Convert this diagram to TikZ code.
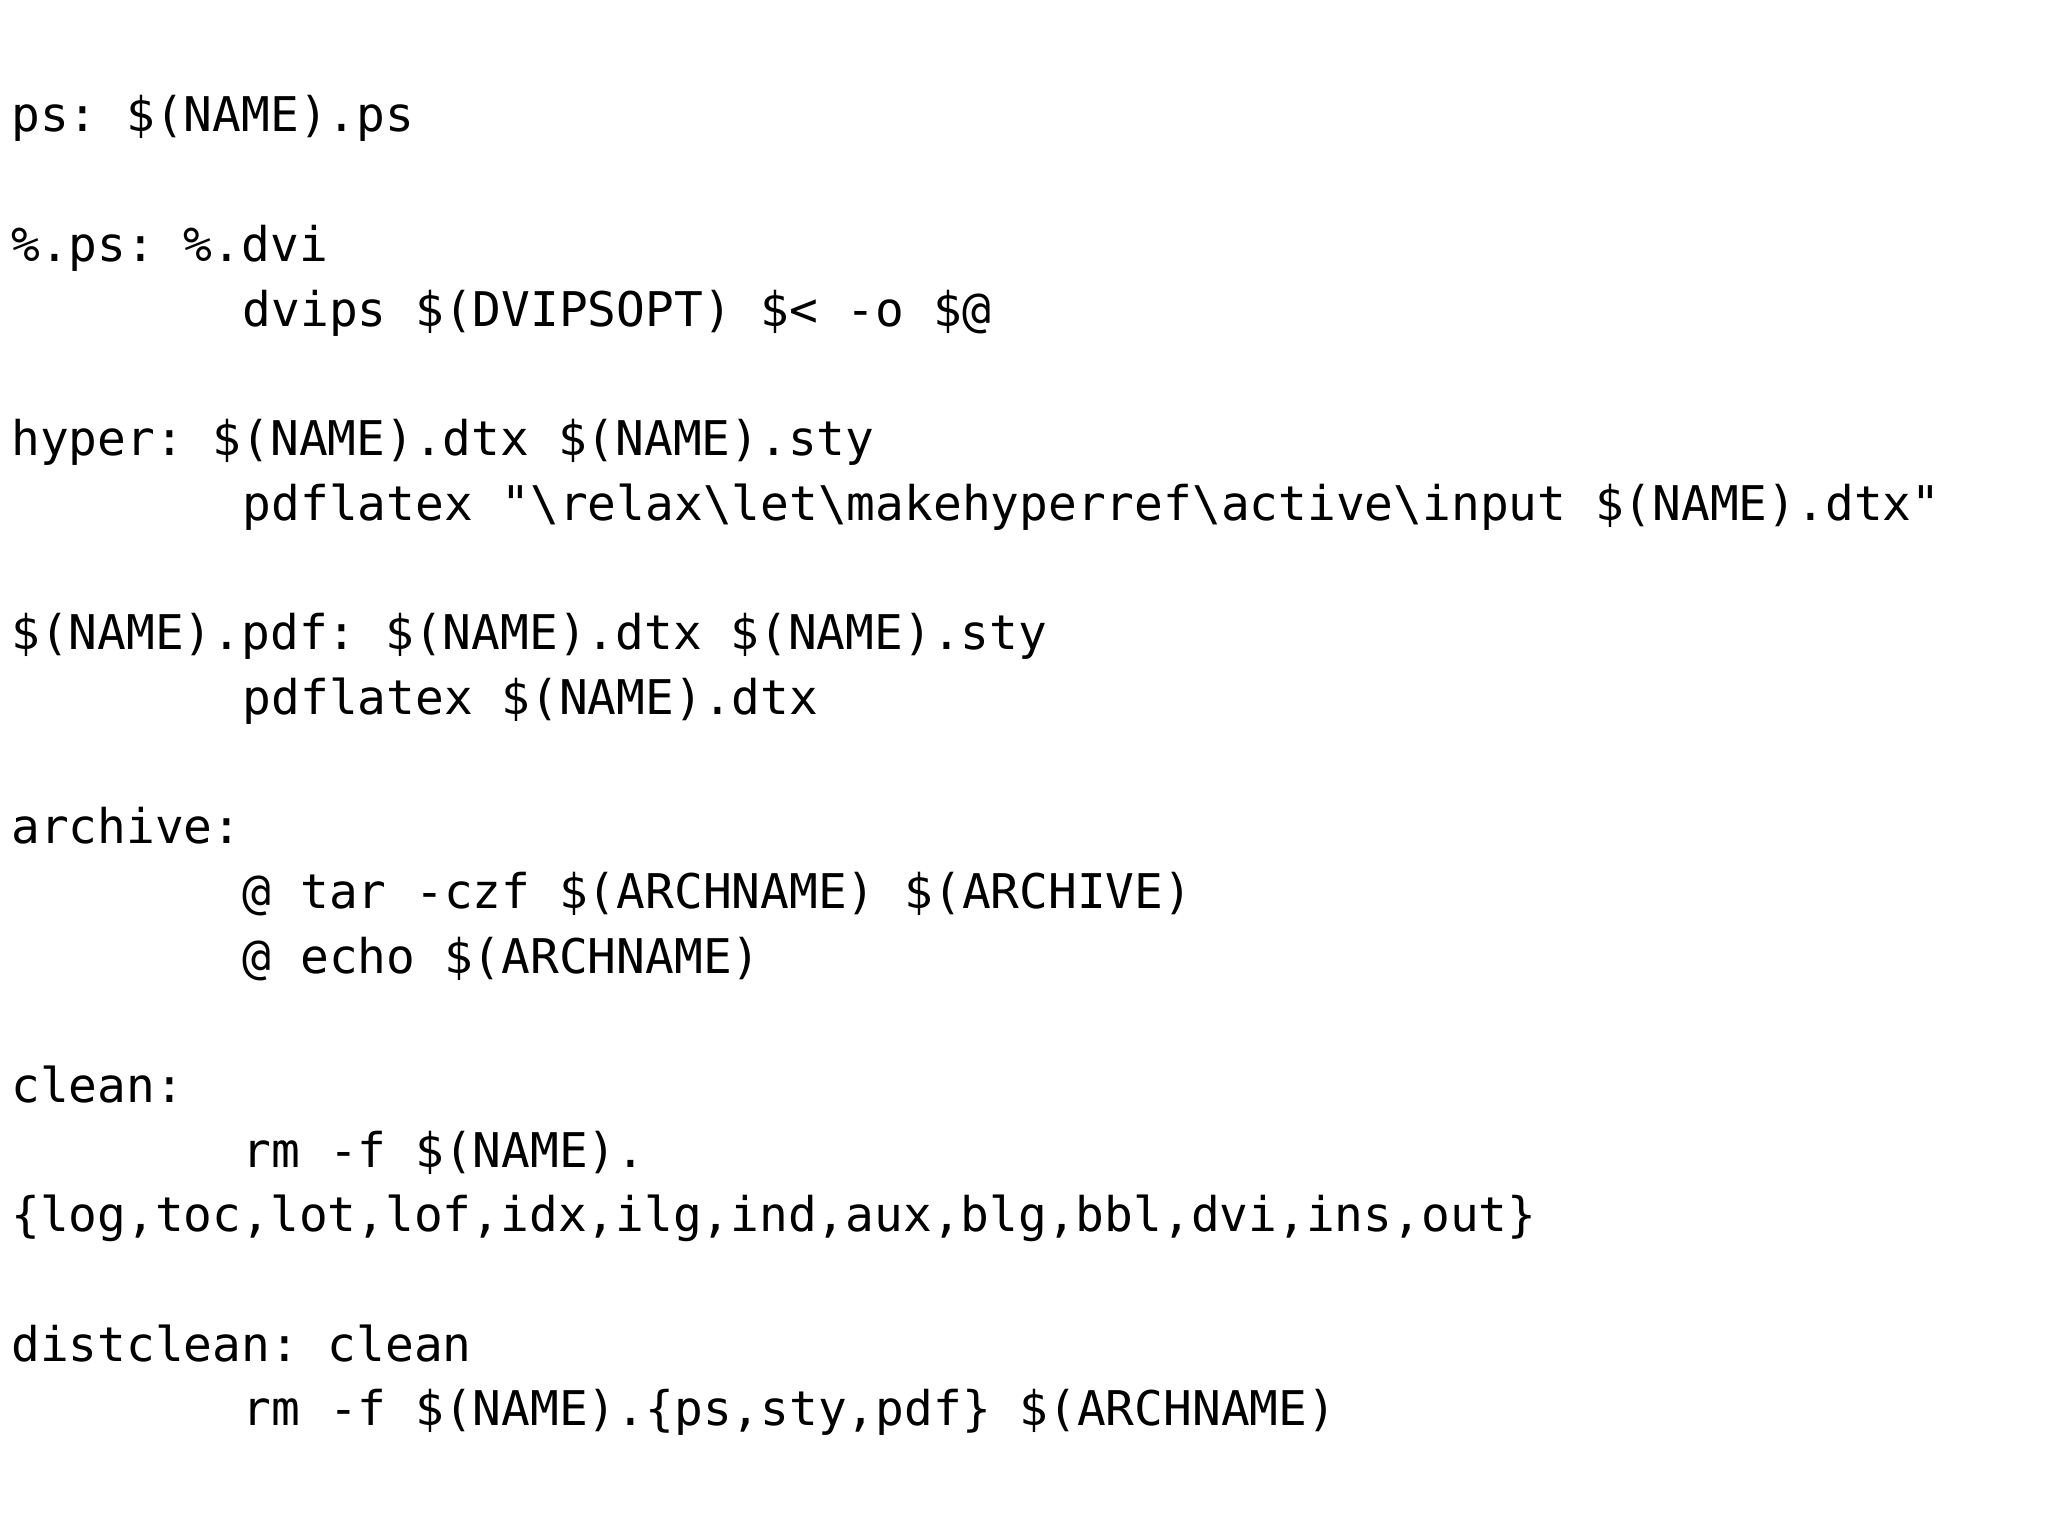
\documentclass[tikz,border=0pt]{standalone}
\usepackage{fontspec}
\setmonofont{DejaVu Sans Mono}
\begin{document}
\begin{tikzpicture}[x=1cm,y=1cm,
  ln/.style={anchor=base west,inner sep=0pt,font=\ttfamily\fontsize{13.6}{16}\selectfont}]
\useasboundingbox (0,0) rectangle (20.48,15.36);
\fill[white] (0,0) rectangle (20.48,15.36);
\def\xa{0.106}\def\xb{2.42}
\newcommand\Y[1]{14.04-#1*0.647}
\node[ln] (l0) at (\xa,{\Y{0}}) {ps: \$(NAME).ps};
\node[ln] (l2) at (\xa,{\Y{2}}) {\%.ps: \%.dvi};
\node[ln] (l3) at (\xb,{\Y{3}}) {dvips \$(DVIPSOPT) \$< -o \$@};
\node[ln] (l5) at (\xa,{\Y{5}}) {hyper: \$(NAME).dtx \$(NAME).sty};
\node[ln] (l6) at (\xb,{\Y{6}}) {pdflatex "\textbackslash relax\textbackslash let\textbackslash makehyperref\textbackslash active\textbackslash input \$(NAME).dtx"};
\node[ln] (l8) at (\xa,{\Y{8}}) {\$(NAME).pdf: \$(NAME).dtx \$(NAME).sty};
\node[ln] (l9) at (\xb,{\Y{9}}) {pdflatex \$(NAME).dtx};
\node[ln] (l11) at (\xa,{\Y{11}}) {archive:};
\node[ln] (l12) at (\xb,{\Y{12}}) {@ tar -czf \$(ARCHNAME) \$(ARCHIVE)};
\node[ln] (l13) at (\xb,{\Y{13}}) {@ echo \$(ARCHNAME)};
\node[ln] (l15) at (\xa,{\Y{15}}) {clean:};
\node[ln] (l16) at (\xb,{\Y{16}}) {rm -f \$(NAME).};
\node[ln] (l17) at (\xa,{\Y{17}}) {\{log,toc,lot,lof,idx,ilg,ind,aux,blg,bbl,dvi,ins,out\}};
\node[ln] (l19) at (\xa,{\Y{19}}) {distclean: clean};
\node[ln] (l20) at (\xb,{\Y{20}}) {rm -f \$(NAME).\{ps,sty,pdf\} \$(ARCHNAME)};
\end{tikzpicture}
\end{document}
